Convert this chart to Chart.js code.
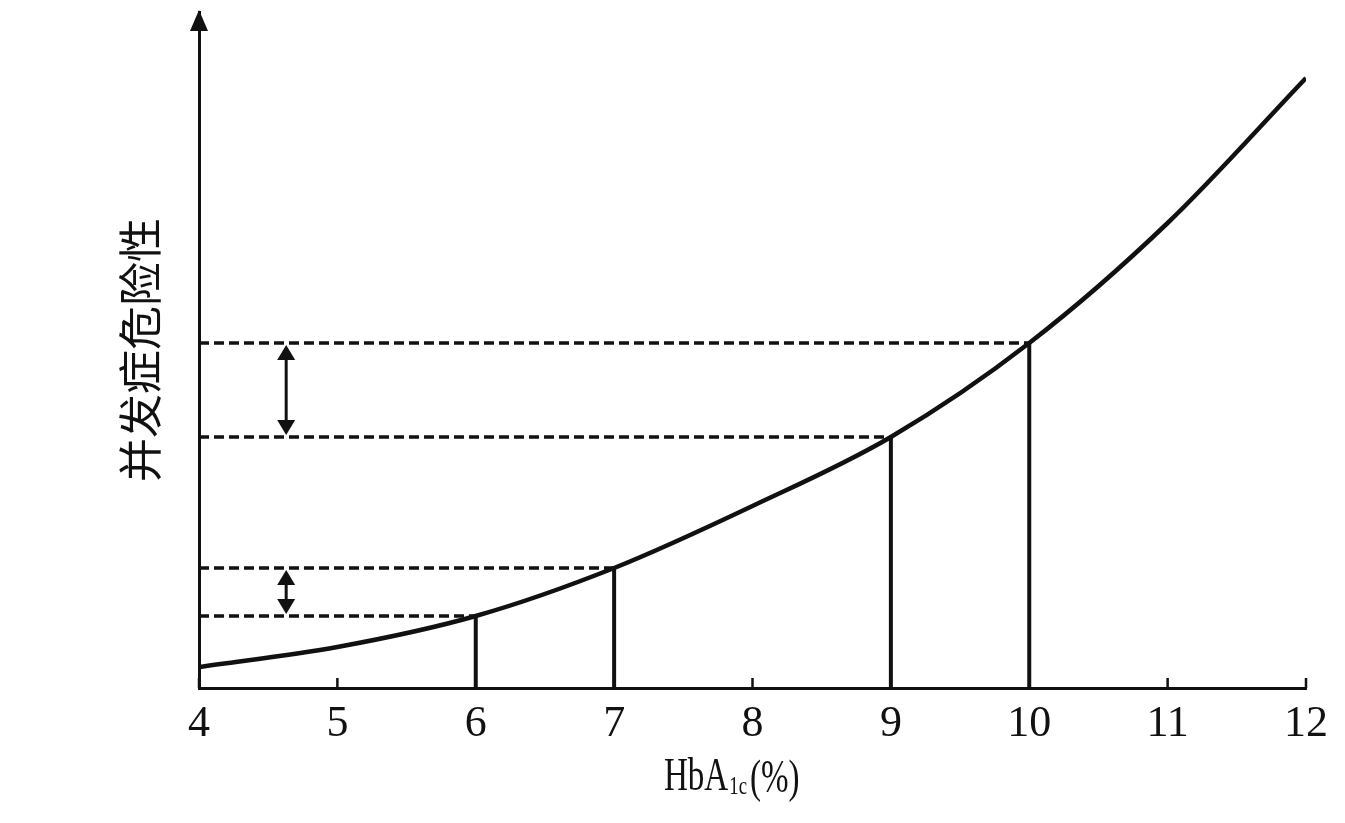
<!DOCTYPE html>
<html lang="zh">
<head>
<meta charset="utf-8">
<title>HbA1c 与并发症危险性</title>
<script src="https://cdn.jsdelivr.net/npm/chart.js@4.4.1/dist/chart.umd.min.js"></script>
<style>
  html, body { margin: 0; padding: 0; background: #fff; }
  #wrap { position: relative; width: 1345px; height: 823px; }
</style>
</head>
<body>
<div id="wrap"><canvas id="riskChart"></canvas></div>
<script>
// 曲线数据
const hba1c = [4, 5, 6, 7, 8, 9, 10, 11, 12];
const risk = [21, 41, 72, 120, 182, 251, 345, 465, 610];
// 标出的 HbA1c 值 (竖线 + 水平虚线)
const markedHba1c = [6, 7, 9, 10];
// 双向箭头: [低, 高]
const arrowPairs = [[6, 7], [9, 10]];
const arrowAt = 4.63;
const xTitleAt = 7.85;

const riskAt = (x) => risk[hba1c.indexOf(x)];
const curve = hba1c.map((x, i) => ({x: x, y: risk[i]}));

const ink = '#111';

const datasets = [{
    data: curve,
    borderColor: ink,
    borderWidth: 4.5,
    pointRadius: 0,
    cubicInterpolationMode: 'monotone',
    order: 0
}];
markedHba1c.forEach(x => {
    // 水平虚线
    datasets.push({
        data: [{x: 4, y: riskAt(x)}, {x: x, y: riskAt(x)}],
        borderColor: ink,
        borderWidth: 3.5,
        borderDash: [10, 5],
        pointRadius: 0,
        order: 2
    });
    // 竖线
    datasets.push({
        data: [{x: x, y: 0}, {x: x, y: riskAt(x)}],
        borderColor: ink,
        borderWidth: 4,
        pointRadius: 0,
        order: 1
    });
});

function triangle(ctx, x, tipY, halfW, h, dir) {
    // dir = -1 朝上, 1 朝下
    ctx.beginPath();
    ctx.moveTo(x, tipY);
    ctx.lineTo(x - halfW, tipY - dir * h);
    ctx.lineTo(x + halfW, tipY - dir * h);
    ctx.closePath();
    ctx.fill();
}

const extrasPlugin = {
    id: 'extras',
    afterDraw(chart) {
        const ctx = chart.ctx;
        const xs = chart.scales.x;
        const ys = chart.scales.y;
        const area = chart.chartArea;
        ctx.save();
        ctx.fillStyle = ink;
        ctx.strokeStyle = ink;

        // 纵轴箭头
        triangle(ctx, area.left, 10, 9, 21, -1);

        // 横轴上的短刻度 (朝内)
        ctx.lineWidth = 2.5;
        xs.ticks.forEach(t => {
            const p = xs.getPixelForValue(t.value);
            ctx.beginPath();
            ctx.moveTo(p, area.bottom);
            ctx.lineTo(p, area.bottom - 10);
            ctx.stroke();
        });

        // 双向箭头
        arrowPairs.forEach(([lo, hi]) => {
            const px = xs.getPixelForValue(arrowAt);
            const yTop = ys.getPixelForValue(riskAt(hi)) + 2;
            const yBot = ys.getPixelForValue(riskAt(lo)) - 2;
            const headH = Math.min(15, (yBot - yTop) / 2 - 2);
            ctx.lineWidth = 3;
            ctx.beginPath();
            ctx.moveTo(px, yTop + headH);
            ctx.lineTo(px, yBot - headH);
            ctx.stroke();
            triangle(ctx, px, yTop, 9, headH, -1);
            triangle(ctx, px, yBot, 9, headH, 1);
        });

        // 横轴标题 HbA1c(%)
        const parts = [
            {text: 'HbA', size: 46, dy: 0, gap: 1},
            {text: '1c', size: 26, dy: 4, gap: 3},
            {text: '(%)', size: 46, dy: 2, gap: 0}
        ];
        const sx = 0.72;
        let total = 0;
        parts.forEach(p => {
            ctx.font = p.size + 'px "Liberation Serif"';
            p.w = ctx.measureText(p.text).width * sx + p.gap;
            total += p.w;
        });
        let cx = xs.getPixelForValue(xTitleAt) - total / 2;
        const baseY = 790;
        ctx.textBaseline = 'alphabetic';
        ctx.textAlign = 'left';
        parts.forEach(p => {
            ctx.save();
            ctx.font = p.size + 'px "Liberation Serif"';
            ctx.translate(cx, baseY + p.dy);
            ctx.scale(sx, 1);
            ctx.fillText(p.text, 0, 0);
            ctx.restore();
            cx += p.w;
        });
        ctx.restore();
    }
};

new Chart(document.getElementById('riskChart'), {
    type: 'line',
    data: {datasets: datasets},
    options: {
        responsive: true,
        maintainAspectRatio: false,
        animation: false,
        layout: {padding: {left: 0, right: 39, top: 12, bottom: 0}},
        plugins: {
            legend: {display: false},
            tooltip: {enabled: false}
        },
        scales: {
            x: {
                type: 'linear',
                min: 4,
                max: 12,
                afterFit: (scale) => { scale.height = 135; },
                grid: {display: false, drawTicks: false},
                border: {display: true, color: ink, width: 3},
                ticks: {
                    stepSize: 1,
                    padding: 10,
                    color: ink,
                    font: {family: '"Liberation Serif"', size: 44}
                }
            },
            y: {
                min: 0,
                max: 676,
                afterFit: (scale) => { scale.width = 199; },
                grid: {display: false, drawTicks: false},
                border: {display: true, color: ink, width: 3},
                ticks: {display: false},
                title: {
                    display: true,
                    text: '并发症危险性',
                    color: ink,
                    font: {family: '"Noto Sans CJK SC"', size: 44},
                    padding: {top: 114, bottom: 0}
                }
            }
        }
    },
    plugins: [extrasPlugin]
});
</script>
</body>
</html>
